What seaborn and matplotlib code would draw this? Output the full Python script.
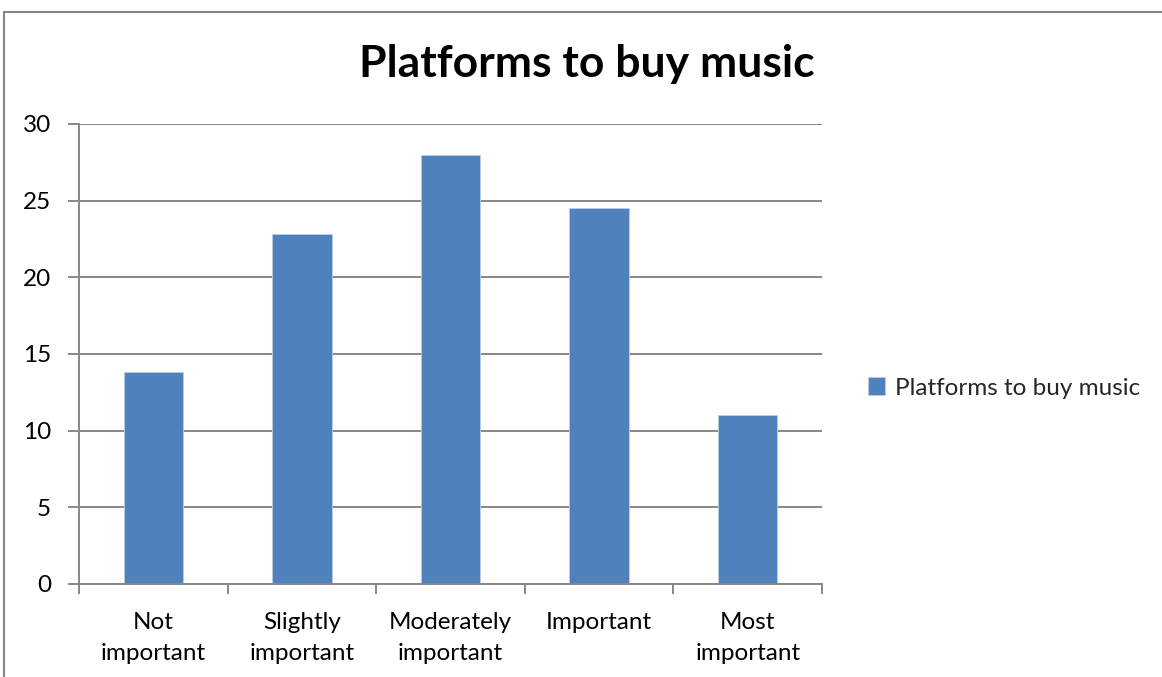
import matplotlib
matplotlib.use("Agg")
import matplotlib.pyplot as plt
import seaborn as sns
import pandas as pd
from matplotlib.patches import Rectangle
from matplotlib.ticker import FixedLocator

categories = ["Not\nimportant", "Slightly\nimportant", "Moderately\nimportant", "Important", "Most\nimportant"]
values = [13.8, 22.8, 28, 24.5, 11]
series_name = "Platforms to buy music"
y_ticks = [0, 5, 10, 15, 20, 25, 30]

bar_color = "#4F81BD"
grid_color = "#878787"

sns.set_theme(style="white")
plt.rcParams["font.family"] = ["Lato", "DejaVu Sans"]

df = pd.DataFrame({"category": categories, "value": values})

fig = plt.figure(figsize=(11.62, 6.77), dpi=100)
ax = fig.add_axes([79 / 1162, 1 - 584 / 677, (822 - 79) / 1162, (584 - 124) / 677])

sns.barplot(data=df, x="category", y="value", color=bar_color, width=0.4,
            label=series_name, ax=ax, saturation=1, edgecolor="#B9CDE5", linewidth=0.6)

ax.set_ylim(0, 30)
ax.set_xlim(-0.5, len(categories) - 0.5)
ax.set_yticks(y_ticks)
ax.yaxis.grid(True, color=grid_color, linewidth=1.4)
ax.set_axisbelow(True)
ax.set_xlabel("")
ax.set_ylabel("")

for side in ["top", "right"]:
    ax.spines[side].set_visible(False)
for side in ["left", "bottom"]:
    ax.spines[side].set_color(grid_color)
    ax.spines[side].set_linewidth(1.4)

ax.tick_params(axis="y", which="major", left=True, length=8, width=1.4, color=grid_color,
               labelsize=17.5, labelcolor="black", pad=12)
ax.tick_params(axis="x", which="major", bottom=False, labelsize=17.5, labelcolor="black", pad=14)
ax.xaxis.set_minor_locator(FixedLocator([i - 0.5 for i in range(len(categories) + 1)]))
ax.tick_params(axis="x", which="minor", bottom=True, length=7, width=1.4, color=grid_color)
for lbl in ax.get_xticklabels():
    lbl.set_linespacing(1.6)

fig.text(587 / 1162, 1 - 64 / 677, series_name, ha="center", va="center",
         fontsize=32, fontweight="bold", color="black")

leg = ax.legend(loc="center left", bbox_to_anchor=(846 / 1162, 1 - 388 / 677),
                bbox_transform=fig.transFigure, frameon=False, fontsize=17.5,
                handlelength=0.7, handleheight=0.7, handletextpad=0.4)

fig.add_artist(Rectangle((4 / 1162, -0.05), 1.2, 1 - 12 / 677 + 0.05,
                         transform=fig.transFigure, fill=False,
                         edgecolor=grid_color, linewidth=1.5))

fig.savefig("out.png", dpi=100, facecolor="white")
